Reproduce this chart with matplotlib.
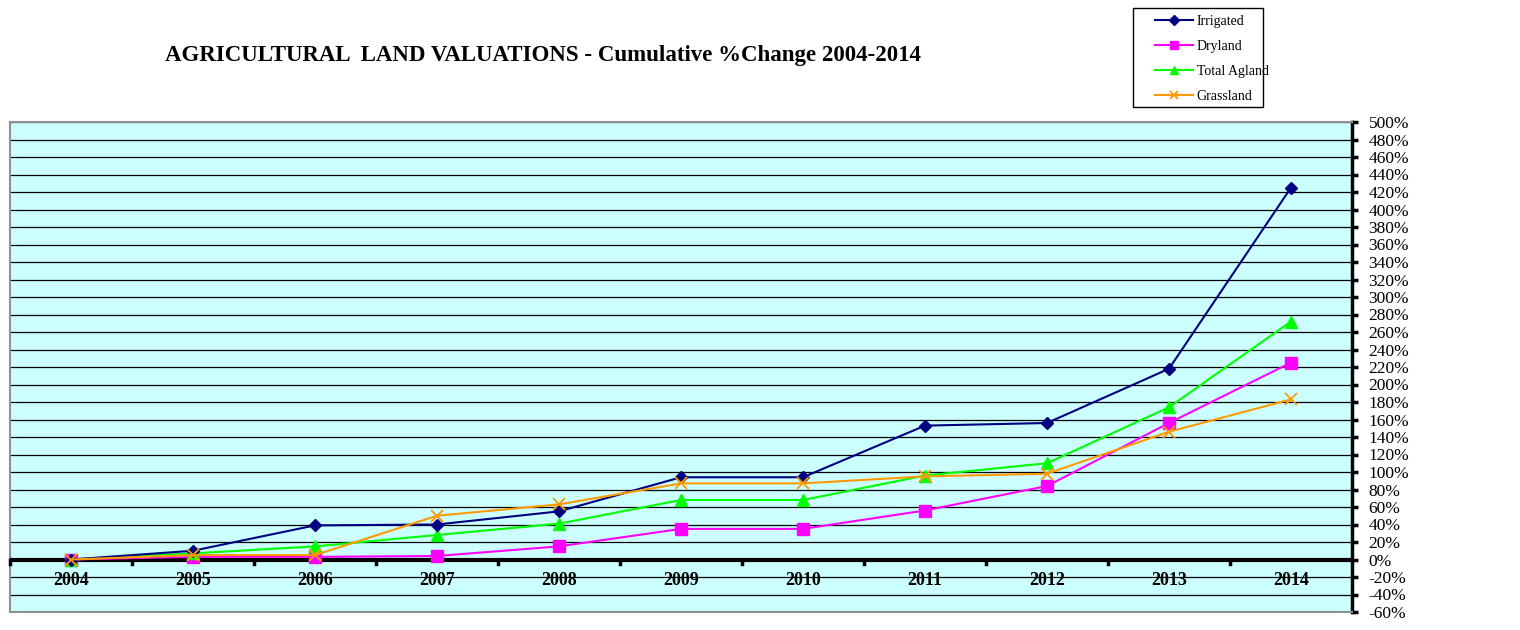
import matplotlib.pyplot as plt
from matplotlib.ticker import MultipleLocator, FuncFormatter
from matplotlib.patches import Rectangle

years = ['2004', '2005', '2006', '2007', '2008', '2009', '2010', '2011', '2012', '2013', '2014']
irrigated = [0, 10, 39, 40, 55, 94, 94, 153, 156, 218, 425]
dryland = [0, 3, 3, 4, 15, 35, 35, 56, 84, 156, 225]
total_agland = [0, 7, 15, 28, 41, 68, 68, 96, 110, 174, 272]
grassland = [0, 5, 5, 50, 63, 87, 87, 95, 98, 146, 183]

plt.rcParams['font.family'] = ['Liberation Serif', 'DejaVu Serif']

fig = plt.figure(figsize=(15.2, 6.3), dpi=100)
ax = fig.add_axes([10 / 1520, 18 / 630, 1342 / 1520, 490 / 630])
ax.set_facecolor('#CCFFFF')

x = list(range(len(years)))
ax.plot(x, irrigated, color='#000080', marker='D', markersize=6, lw=1.5, label='Irrigated', zorder=5)
ax.plot(x, dryland, color='#FF00FF', marker='s', markersize=8, lw=1.5, label='Dryland', zorder=4)
ax.plot(x, total_agland, color='#00FF00', marker='^', markersize=8, lw=1.5, label='Total Agland', zorder=4)
ax.plot(x, grassland, color='#FF9900', marker='x', markersize=8, mew=1.3, lw=1.5, label='Grassland', zorder=6)

ax.set_xlim(-0.5, 10.5)
ax.set_ylim(-60, 500)

# horizontal grid
ax.yaxis.set_major_locator(MultipleLocator(20))
ax.grid(axis='y', color='black', lw=0.9, zorder=1)
ax.set_axisbelow(True)
ax.axhline(0, color='black', lw=3, zorder=3)

# right value axis
ax.yaxis.tick_right()
ax.yaxis.set_major_formatter(FuncFormatter(lambda v, p: '%d%%' % v))
ax.tick_params(axis='y', direction='out', length=4, width=2.5, labelsize=12.5, pad=8)

# category labels below the zero line
ax.set_xticks([])
for i, yr in enumerate(years):
    ax.text(i, -24, yr, ha='center', va='center', fontsize=13, fontweight='bold')
for i in range(len(years)):
    ax.plot([i - 0.5, i - 0.5], [0, -5], color='black', lw=2.5, zorder=3, clip_on=False)

for s in ['top', 'left', 'bottom']:
    ax.spines[s].set_color('#909090')
    ax.spines[s].set_linewidth(1.5)
ax.spines['right'].set_color('black')
ax.spines['right'].set_linewidth(2.5)

fig.text(543 / 1520, 1 - 55 / 630, 'AGRICULTURAL  LAND VALUATIONS - Cumulative %Change 2004-2014',
         ha='center', va='center', fontsize=16.5, fontweight='bold')

# legend box drawn separately so the entries can sit further in
fig.patches.append(Rectangle((1133 / 1520, 1 - 107 / 630), 130 / 1520, 99 / 630,
                             transform=fig.transFigure, fill=False, edgecolor='black', lw=1))
leg = fig.legend(loc='upper left', bbox_to_anchor=(1155 / 1520, 1 - 14.5 / 630), fontsize=10,
                 frameon=False, labelspacing=0.88, handlelength=2.7, handletextpad=0.3,
                 markerscale=0.8, borderpad=0, borderaxespad=0)

fig.savefig('out.png', dpi=100)
